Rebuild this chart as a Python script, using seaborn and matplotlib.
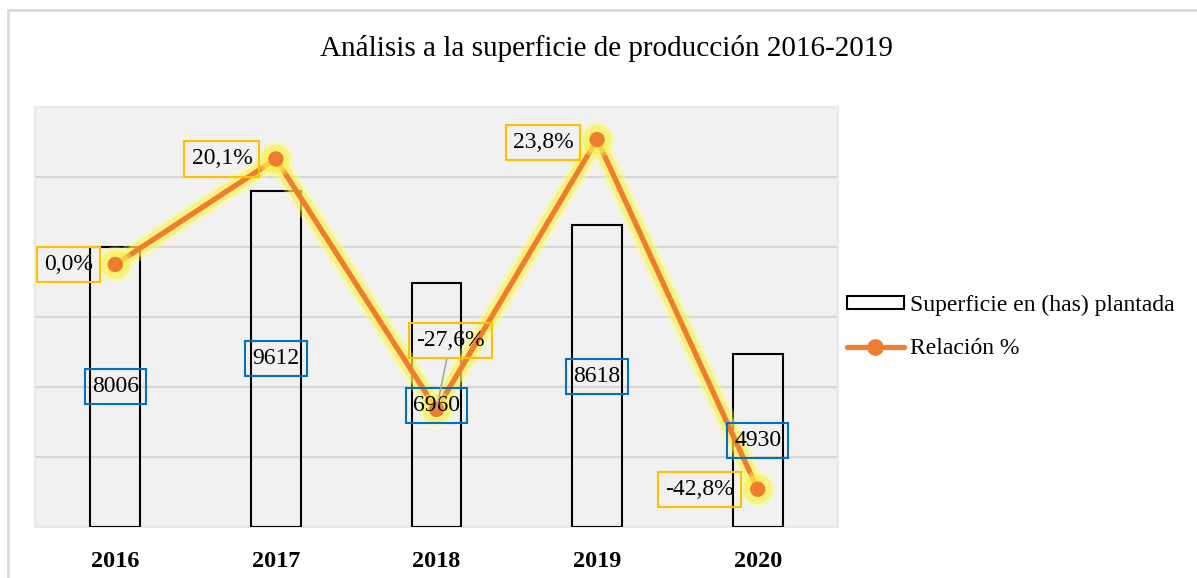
import numpy as np
import matplotlib
matplotlib.use('Agg')
import matplotlib.pyplot as plt
import matplotlib.patheffects as pe
from matplotlib.patches import Rectangle
from matplotlib.lines import Line2D
import seaborn as sns

# datos
anios = ['2016', '2017', '2018', '2019', '2020']
superficie = [8006, 9612, 6960, 8618, 4930]
relacion = [0.0, 20.1, -27.6, 23.8, -42.8]
etiquetas_rel = ['0,0%', '20,1%', '-27,6%', '23,8%', '-42,8%']

sns.set_style('white')
plt.rcParams['font.family'] = ['Liberation Serif', 'DejaVu Serif']
plt.rcParams['text.color'] = 'black'
plt.rcParams['xtick.color'] = 'black'

W, H = 1197, 578
fig = plt.figure(figsize=(W / 100, H / 100), dpi=100)

# borde exterior del grafico
fig.patches.append(Rectangle((8 / W, -0.1), 1.2, (H - 10) / H + 0.1, transform=fig.transFigure,
                             facecolor='none', edgecolor='#d9d9d9', linewidth=2))

ax = fig.add_axes([35 / W, (H - 527) / H, (838 - 35) / W, (527 - 107) / H])
ax.set_facecolor('#f1f1f1')

sns.barplot(x=anios, y=superficie, ax=ax, fill=False, color='black', edgecolor='black',
            linewidth=1.5, width=0.31, zorder=3)
for p in ax.patches:
    p.set_edgecolor('black')
ax.set_ylim(0, 12000)
ax.set_yticks(np.arange(0, 12001, 2000))
ax.yaxis.grid(True, color='#d6d6d6', linewidth=1.5, zorder=0)
ax.set_axisbelow(True)
ax.set_xlim(-0.5, 4.5)
ax.set_yticklabels([])
ax.tick_params(axis='both', length=0)
ax.tick_params(axis='x', labelsize=17.5, pad=17)
for lbl in ax.get_xticklabels():
    lbl.set_fontweight('bold')
ax.set_xlabel('')
ax.set_ylabel('')
for s in ax.spines.values():
    s.set_color('#e3eaf2')
    s.set_linewidth(1.5)

# linea de relacion en eje secundario
ax2 = ax.twinx()
pos = np.arange(len(anios))
glow = [pe.Stroke(linewidth=15, foreground='#ffff80', alpha=0.35),
        pe.Stroke(linewidth=10, foreground='#f7f040', alpha=0.55),
        pe.Normal()]
sns.lineplot(x=pos, y=relacion, ax=ax2, color='#ed7d31', linewidth=3.8,
             marker='o', markersize=11, markeredgewidth=0, zorder=4, path_effects=glow)
ax2.set_ylim(-50, 30)
ax2.set_xlim(-0.5, 4.5)
ax2.axis('off')

# etiquetas de barras (encima de la linea)
for i, v in enumerate(superficie):
    ax2.text(i, v / 2, str(v), transform=ax.transData, ha='center', va='center',
             fontsize=17, zorder=6,
             bbox=dict(boxstyle='square,pad=0.3', facecolor='none', edgecolor='#0070c0', linewidth=1.5))

offsets = [(-47, 0), (-54, 0), (14, 69), (-54, -3), (-58, 0)]
for i, (v, t, off) in enumerate(zip(relacion, etiquetas_rel, offsets)):
    arrow = None
    if i == 2:
        arrow = dict(arrowstyle='-', color='#a6a6a6', linewidth=1.2, shrinkA=0, shrinkB=0)
    ax2.annotate(t, xy=(i, v), xytext=off, textcoords='offset pixels',
                 ha='center', va='center', fontsize=17, zorder=7, arrowprops=arrow,
                 bbox=dict(boxstyle='square,pad=0.3', facecolor='none', edgecolor='#ffc000', linewidth=1.5))

# leyenda
handles = [Rectangle((0, 0), 1, 1, facecolor='white', edgecolor='black', linewidth=1.5),
           Line2D([0], [0], color='#ed7d31', linewidth=3.8, marker='o', markersize=11)]
fig.legend(handles, ['Superficie en (has) plantada', 'Relación %'], loc='center left',
           bbox_to_anchor=(847 / W, 1 - 327 / H), frameon=False, fontsize=17,
           borderpad=0, borderaxespad=0, handlelength=2.4, handleheight=0.5,
           handletextpad=0.25, labelspacing=0.95)

fig.text(606 / W, 1 - 48 / H, 'Análisis a la superficie de producción 2016-2019',
         ha='center', va='center', fontsize=21)

fig.savefig('out.png', dpi=100)
